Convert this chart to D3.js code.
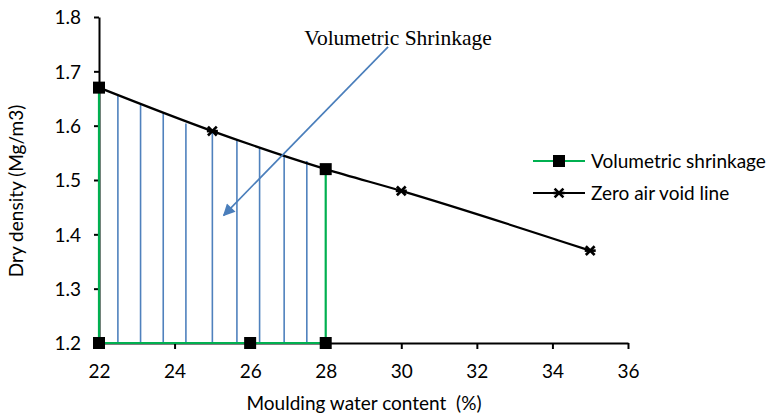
<!DOCTYPE html>
<html>
<head>
<meta charset="utf-8">
<script src="https://cdn.jsdelivr.net/npm/d3@7"></script>
<style>
  body { margin: 0; background: #fff; }
  svg { display: block; font-family: Lato, "Open Sans", sans-serif; }
  text { white-space: pre; }
</style>
</head>
<body>
<div id="chart"></div>
<script>
// Data
const shrinkX = [22, 22, 26, 28, 28];
const shrinkY = [1.67, 1.2, 1.2, 1.2, 1.52];
const zavX = [22, 25, 28, 30, 35];
const zavY = [1.67, 1.59, 1.52, 1.48, 1.37];
const hatchX = [22.5, 23.1, 23.7, 24.3, 25.0, 25.65, 26.25, 26.9, 27.5];
const hatchTop = [1.658, 1.638, 1.623, 1.604, 1.59, 1.575, 1.56, 1.547, 1.535];
const xTicks = [22, 24, 26, 28, 30, 32, 34, 36];
const yTicks = [1.2, 1.3, 1.4, 1.5, 1.6, 1.7, 1.8];
const arrowFrom = [29.65, 1.745];
const arrowTo = [25.3, 1.435];
const seriesNames = ['Volumetric shrinkage', 'Zero air void line'];

const W = 776, H = 418;
const margin = { top: 17, left: 99, right: 148, bottom: 75 };
const fontSize = '19px';

const svg = d3.select('#chart').append('svg')
    .attr('width', W)
    .attr('height', H);

const x = d3.scaleLinear().domain([22, 36]).range([margin.left, W - margin.right]);
const y = d3.scaleLinear().domain([1.2, 1.8]).range([H - margin.bottom, margin.top]);

const defs = svg.append('defs');
defs.append('marker')
    .attr('id', 'arrowhead')
    .attr('viewBox', '0 0 10 10')
    .attr('refX', 9).attr('refY', 5)
    .attr('markerUnits', 'userSpaceOnUse')
    .attr('markerWidth', 14).attr('markerHeight', 12)
    .attr('orient', 'auto')
    .append('path')
    .attr('d', 'M0,0 L10,5 L0,10 Z')
    .attr('fill', '#4a7ebb');

// Hatch lines (blue verticals)
svg.append('g')
    .selectAll('line')
    .data(hatchX)
    .join('line')
    .attr('x1', d => x(d)).attr('x2', d => x(d))
    .attr('y1', y(1.2))
    .attr('y2', (d, i) => y(hatchTop[i]))
    .attr('stroke', '#4f81bd')
    .attr('stroke-width', 1.6);

// Axes
const xAxis = svg.append('g')
    .attr('transform', `translate(0,${y(1.2)})`)
    .call(d3.axisBottom(x).tickValues(xTicks).tickSize(6).tickSizeOuter(0).tickFormat(d3.format('d')));
const yAxis = svg.append('g')
    .attr('transform', `translate(${x(22)},0)`)
    .call(d3.axisLeft(y).tickValues(yTicks).tickSize(5).tickSizeOuter(0).tickFormat(d3.format('.1f')));

[xAxis, yAxis].forEach(g => {
    g.select('.domain').attr('stroke', '#000').attr('stroke-width', 2);
    g.selectAll('.tick line').attr('stroke', '#000').attr('stroke-width', 2);
    g.selectAll('.tick text')
        .attr('fill', '#000')
        .style('font-size', fontSize)
        .style('font-family', 'Lato, sans-serif');
});
xAxis.selectAll('.tick text').attr('dy', null).attr('y', 35);
yAxis.selectAll('.tick text').attr('x', -18).attr('dy', '0.36em');

// Zero air void line
const zavPts = zavX.map((d, i) => [d, zavY[i]]);
svg.append('path')
    .datum(zavPts)
    .attr('fill', 'none')
    .attr('stroke', '#000')
    .attr('stroke-width', 2.2)
    .attr('d', d3.line().x(d => x(d[0])).y(d => y(d[1])).curve(d3.curveMonotoneX));

// Volumetric shrinkage outline
const shrinkPts = shrinkX.map((d, i) => [d, shrinkY[i]]);
svg.append('path')
    .datum(shrinkPts)
    .attr('fill', 'none')
    .attr('stroke', '#00b050')
    .attr('stroke-width', 2.2)
    .attr('d', d3.line().x(d => x(d[0])).y(d => y(d[1])));

// Star markers (X with a horizontal bar)
const star = (g, cx, cy, r) => {
    const p = g.append('g').attr('transform', `translate(${cx},${cy})`);
    [[-r, 0, r, 0], [-r * 0.8, -r * 0.8, r * 0.8, r * 0.8], [-r * 0.8, r * 0.8, r * 0.8, -r * 0.8]]
        .forEach(l => p.append('line')
            .attr('x1', l[0]).attr('y1', l[1]).attr('x2', l[2]).attr('y2', l[3])
            .attr('stroke', '#000').attr('stroke-width', 2.6));
};
const starG = svg.append('g');
zavPts.slice(1).filter(d => d[0] !== 28).forEach(d => star(starG, x(d[0]), y(d[1]), 5.5));

// Square markers for shrinkage series
svg.append('g')
    .selectAll('rect')
    .data(shrinkPts)
    .join('rect')
    .attr('x', d => x(d[0]) - 6)
    .attr('y', d => y(d[1]) - 6)
    .attr('width', 12).attr('height', 12)
    .attr('fill', '#000');

// Annotation arrow + text
svg.append('line')
    .attr('x1', x(arrowFrom[0])).attr('y1', y(arrowFrom[1]))
    .attr('x2', x(arrowTo[0])).attr('y2', y(arrowTo[1]))
    .attr('stroke', '#4a7ebb')
    .attr('stroke-width', 1.6)
    .attr('marker-end', 'url(#arrowhead)');

svg.append('text')
    .attr('x', 398).attr('y', 45)
    .attr('text-anchor', 'middle')
    .style('font-family', '"Liberation Serif", "Times New Roman", serif')
    .style('font-size', '21.5px')
    .text('Volumetric Shrinkage');

// Axis titles
svg.append('text')
    .attr('x', 364).attr('y', 410)
    .attr('text-anchor', 'middle')
    .style('font-size', fontSize)
    .text('Moulding water content  (%)');

svg.append('text')
    .attr('transform', `translate(23,191) rotate(-90)`)
    .attr('text-anchor', 'middle')
    .style('font-size', fontSize)
    .text('Dry density (Mg/m3)');

// Legend
const legend = svg.append('g').attr('transform', 'translate(533,161)');
seriesNames.forEach((name, i) => {
    const row = legend.append('g').attr('transform', `translate(0,${i * 32})`);
    row.append('line')
        .attr('x1', 0).attr('x2', 52)
        .attr('stroke', i === 0 ? '#00b050' : '#000')
        .attr('stroke-width', 2.2);
    if (i === 0) {
        row.append('rect').attr('x', 20).attr('y', -6).attr('width', 12).attr('height', 12).attr('fill', '#000');
    } else {
        star(row, 26, 0, 5.5);
    }
    row.append('text')
        .attr('x', 58).attr('dy', '0.36em')
        .style('font-size', fontSize)
        .text(name);
});
</script>
</body>
</html>
